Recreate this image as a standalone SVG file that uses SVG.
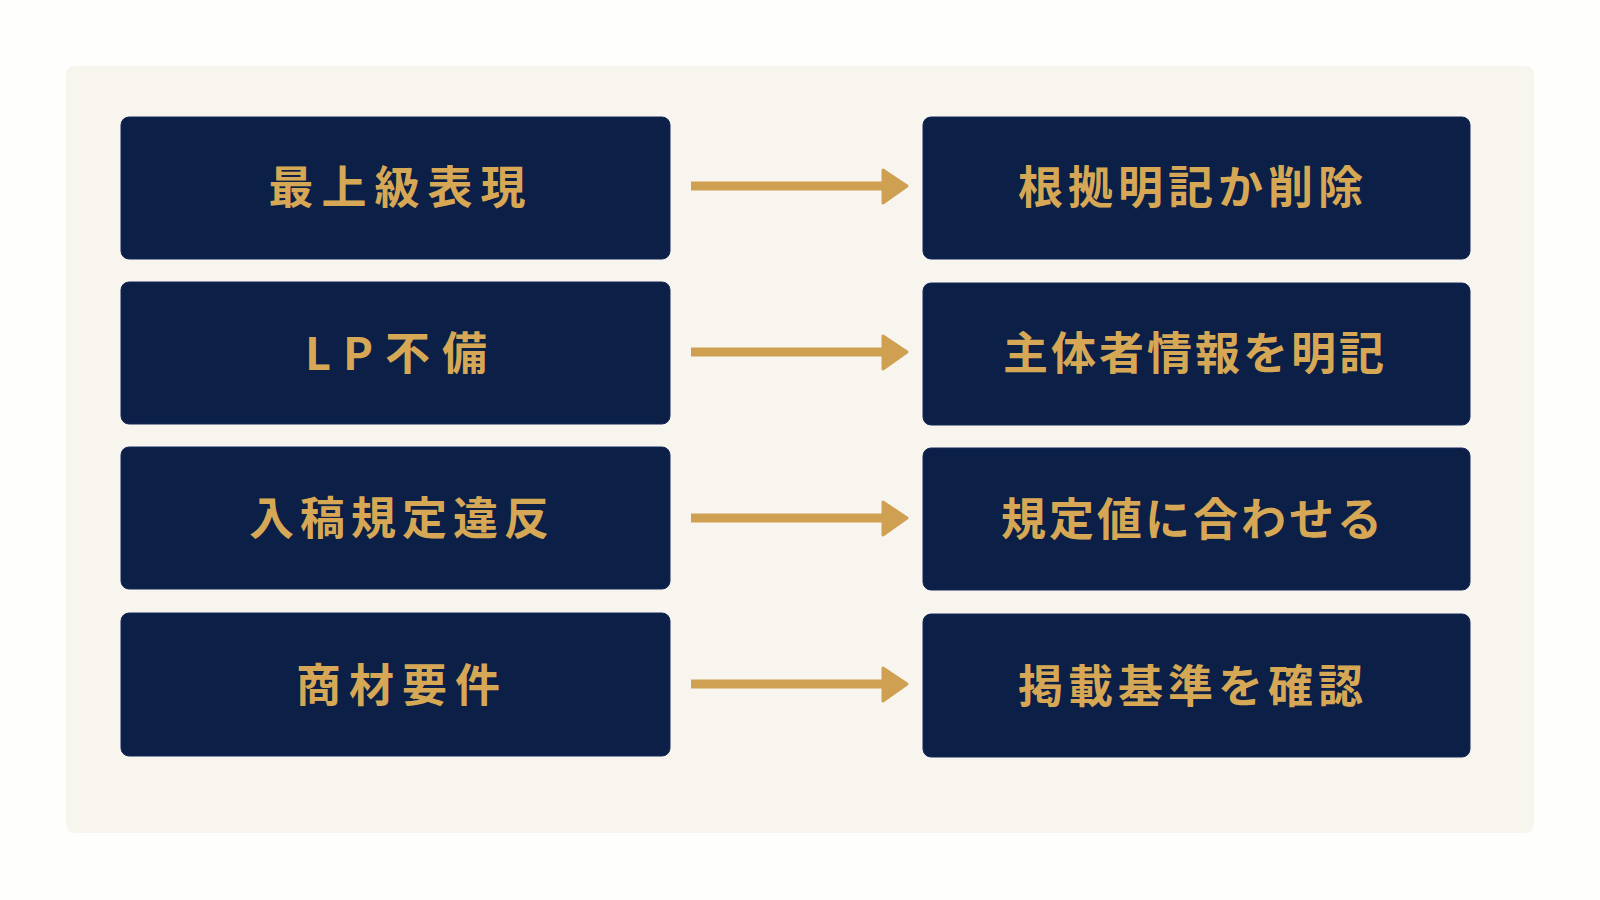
<svg xmlns="http://www.w3.org/2000/svg" width="1600" height="900" viewBox="0 0 1600 900">
  <style>
    .box { fill: #0B1F47; stroke: #15295A; stroke-width: 1; }
    .lbl { fill: #D6A855; font-family: "Noto Sans CJK JP", "Noto Sans CJK SC", sans-serif; font-weight: 700; font-size: 45px; text-anchor: middle; }
    .l { letter-spacing: 8px; }
    .r { letter-spacing: 5px; }
    .r2 { letter-spacing: 3px; }
    .arrow { stroke: #CFA052; stroke-width: 9; fill: none; }
    .head { fill: #CFA052; stroke: #CFA052; stroke-width: 3; stroke-linejoin: round; }
  </style>
  <rect x="0" y="0" width="1600" height="900" fill="#FEFEFD"/>
  <rect x="66" y="66" width="1468" height="767" rx="8" fill="#F8F5EF"/>

  <g id="connectors">
    <line class="arrow" x1="691" y1="186" x2="886" y2="186"/>
    <polygon class="head" points="883,170 907,186 883,203"/>
    <line class="arrow" x1="691" y1="352" x2="886" y2="352"/>
    <polygon class="head" points="883,336 907,352 883,369"/>
    <line class="arrow" x1="691" y1="518" x2="886" y2="518"/>
    <polygon class="head" points="883,502 907,518 883,535"/>
    <line class="arrow" x1="691" y1="684" x2="886" y2="684"/>
    <polygon class="head" points="883,668 907,684 883,701"/>
  </g>

  <g id="left1"><rect class="box" x="121" y="117" width="549" height="142" rx="8"/><text class="lbl l" x="401" y="204">最上級表現</text></g>
  <g id="left2"><rect class="box" x="121" y="282" width="549" height="142" rx="8"/><text class="lbl" x="402" y="370" style="letter-spacing:12px">LP不備</text></g>
  <g id="left3"><rect class="box" x="121" y="447" width="549" height="142" rx="8"/><text class="lbl" x="402" y="535" style="letter-spacing:6px">入稿規定違反</text></g>
  <g id="left4"><rect class="box" x="121" y="613" width="549" height="143" rx="8"/><text class="lbl l" x="402" y="702">商材要件</text></g>

  <g id="right1"><rect class="box" x="923" y="117" width="547" height="142" rx="8"/><text class="lbl r" x="1193" y="204">根拠明記か削除</text></g>
  <g id="right2"><rect class="box" x="923" y="283" width="547" height="142" rx="8"/><text class="lbl r2" x="1195" y="370">主体者情報を明記</text></g>
  <g id="right3"><rect class="box" x="923" y="448" width="547" height="142" rx="8"/><text class="lbl r2" x="1193" y="536">規定値に合わせる</text></g>
  <g id="right4"><rect class="box" x="923" y="614" width="547" height="143" rx="8"/><text class="lbl r" x="1193" y="703">掲載基準を確認</text></g>
</svg>
